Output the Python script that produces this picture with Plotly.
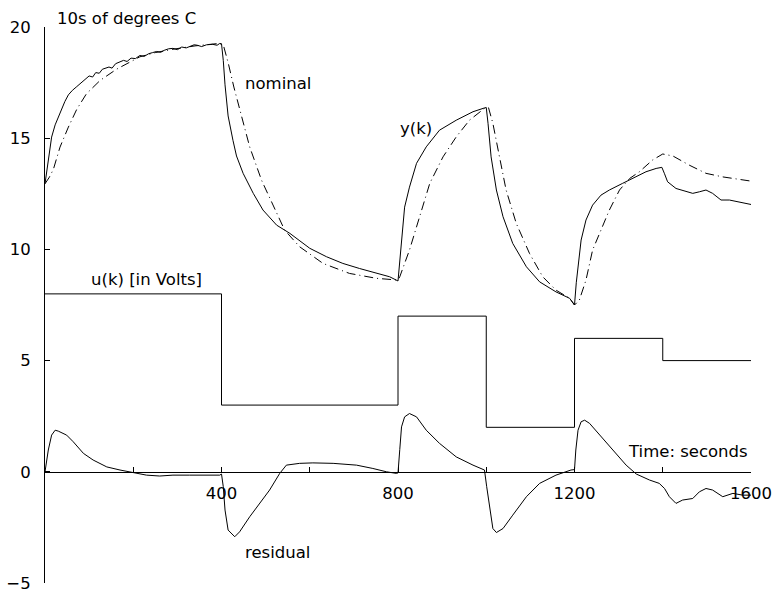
import plotly.graph_objects as go

# ---- data ----
y_t = [0, 8, 15, 23, 30, 38, 45, 53, 62, 72, 85, 100, 108, 115, 123, 130, 145, 152, 160, 178, 186,
       195, 205, 215, 225, 235, 244, 253, 262, 270, 280, 290, 300, 310, 320, 328, 338, 345, 355, 366,
       380, 390, 396, 400, 404, 408, 415, 426, 434, 449, 472, 494, 525, 555, 600, 638, 675, 713, 751,
       781, 800, 804, 808, 815, 826, 842, 864, 894, 932, 970, 996, 1000, 1004, 1011, 1023, 1038,
       1060, 1091, 1121, 1158, 1189, 1200, 1204, 1208, 1215, 1226, 1241, 1260, 1279, 1309, 1340,
       1362, 1385, 1398, 1404, 1411, 1430, 1453, 1468, 1483, 1498, 1513, 1532, 1551, 1574, 1600]
y_v = [12.95, 14.2, 15.05, 15.6, 15.95, 16.35, 16.65, 16.95, 17.15, 17.32, 17.55, 17.8, 17.75, 17.95,
       17.92, 18.1, 18.2, 18.15, 18.35, 18.5, 18.45, 18.6, 18.58, 18.72, 18.68, 18.8, 18.85, 18.9,
       18.86, 18.95, 19.02, 19.04, 18.98, 19.1, 19.06, 19.12, 19.2, 19.18, 19.12, 19.2, 19.22, 19.18,
       19.26, 19.25, 18.5, 17.4, 16.0, 14.9, 14.2, 13.42, 12.52, 11.77, 11.09, 10.72, 10.05, 9.67,
       9.37, 9.14, 8.92, 8.77, 8.58, 9.5, 10.42, 11.9, 12.8, 13.87, 14.61, 15.36, 15.81, 16.19,
       16.36, 16.38, 15.67, 14.16, 12.67, 11.47, 10.27, 9.22, 8.54, 8.09, 7.8, 7.5, 8.5, 9.22, 10.42,
       11.32, 11.99, 12.44, 12.67, 12.97, 13.26, 13.49, 13.64, 13.69, 13.4, 13.04, 12.74, 12.59,
       12.52, 12.59, 12.67, 12.52, 12.22, 12.22, 12.14, 12.02]

nom_t = [0, 10, 19, 34, 53, 72, 94, 125, 162, 215, 250, 290, 340, 389, 404, 415, 428, 443, 464, 491,
         525, 543, 577, 630, 690, 751, 800, 804, 826, 849, 872, 902, 932, 962, 996, 1005, 1015, 1030,
         1045, 1068, 1098, 1128, 1158, 1189, 1200, 1211, 1226, 1241, 1260, 1279, 1302, 1325, 1347,
         1377, 1400, 1423, 1460, 1498, 1536, 1574, 1600]
nom_v = [12.95, 13.25, 13.6, 14.6, 15.5, 16.3, 17.0, 17.6, 18.1, 18.66, 18.85, 19.0, 19.15, 19.25,
         19.2, 18.4, 17.3, 16.2, 14.6, 13.1, 11.62, 10.87, 10.12, 9.37, 8.92, 8.7, 8.62, 8.77, 9.97,
         11.47, 12.97, 14.16, 15.06, 15.81, 16.34, 16.38, 15.67, 14.16, 12.67, 11.17, 9.82, 8.77,
         8.17, 7.8, 7.5, 7.72, 8.62, 9.97, 10.87, 11.77, 12.67, 13.19, 13.49, 14.02, 14.29, 14.2,
         13.79, 13.42, 13.26, 13.15, 13.07]

res_t = [0, 7.5, 15, 23, 30, 49, 64, 87, 109, 140, 170, 200, 230, 260, 290, 328, 366, 396, 400, 404,
         408, 415, 430, 441, 464, 487, 509, 532, 547, 577, 607, 653, 706, 743, 774, 796, 800, 804,
         808, 815, 826, 842, 864, 894, 932, 970, 996, 1001, 1008, 1015, 1023, 1038, 1060, 1091, 1121,
         1158, 1192, 1200, 1203, 1208, 1215, 1223, 1234, 1257, 1287, 1317, 1340, 1370, 1392, 1404,
         1415, 1430, 1445, 1468, 1483, 1498, 1513, 1536, 1559, 1581, 1600]
res_v = [0, 0.98, 1.65, 1.87, 1.83, 1.65, 1.35, 0.83, 0.53, 0.22, 0.08, -0.04, -0.15, -0.19, -0.15,
         -0.15, -0.15, -0.15, -0.1, -0.67, -1.72, -2.62, -2.92, -2.7, -2.02, -1.42, -0.82, -0.07,
         0.3, 0.38, 0.4, 0.38, 0.3, 0.15, 0.0, -0.07, -0.05, 1.0, 2.02, 2.47, 2.62, 2.47, 1.87, 1.28,
         0.67, 0.3, 0.08, -0.67, -1.72, -2.55, -2.73, -2.55, -1.95, -1.12, -0.52, -0.15, 0.08, 0.1,
         0.98, 1.87, 2.25, 2.32, 2.18, 1.65, 0.98, 0.3, -0.1, -0.37, -0.52, -0.75, -1.12, -1.42,
         -1.27, -1.2, -0.9, -0.75, -0.82, -1.12, -0.97, -1.05, -1.05]

u_t = [0, 400, 800, 1000, 1200, 1400, 1600]
u_v = [8, 3, 7, 2, 6, 5, 5]

x_ticks = [200, 400, 600, 800, 1000, 1200, 1400, 1600]
x_ticklabels = ["", "400", "", "800", "", "1200", "", "1600"]
y_ticks = [-5, 0, 5, 10, 15, 20]

FONT = "DejaVu Sans"
FS = 16.5

fig = go.Figure()
fig.add_trace(go.Scatter(x=u_t, y=u_v, mode="lines", line=dict(color="black", width=1, shape="hv")))
fig.add_trace(go.Scatter(x=nom_t, y=nom_v, mode="lines",
                         line=dict(color="black", width=1, dash="9px,4px,1px,4px")))
fig.add_trace(go.Scatter(x=y_t, y=y_v, mode="lines", line=dict(color="black", width=1)))
fig.add_trace(go.Scatter(x=res_t, y=res_v, mode="lines", line=dict(color="black", width=1)))

# axis title above the plot area (paper y coordinate since it lies outside the y range)
fig.add_annotation(x=22, y=1.016, xref="x", yref="paper", text="10s of degrees C",
                   showarrow=False, xanchor="left", yanchor="middle",
                   font=dict(family=FONT, size=FS, color="black"))

labels = [
    ("nominal", 449, 17.48, "left"),
    ("y(k)", 799, 15.45, "left"),
    ("u(k) [in Volts]", 100, 8.66, "left"),
    ("Time: seconds", 1598, 0.93, "right"),
    ("residual", 448, -3.61, "left"),
]
for txt, ax, ay, anc in labels:
    fig.add_annotation(x=ax, y=ay, xref="x", yref="y", text=txt, showarrow=False,
                       xanchor=anc, yanchor="middle", font=dict(family=FONT, size=FS, color="black"))

fig.update_layout(
    width=773, height=596,
    margin=dict(l=45, r=22, t=27, b=13, autoexpand=False),
    paper_bgcolor="white", plot_bgcolor="white",
    showlegend=False,
    font=dict(family=FONT, size=FS, color="black"),
    xaxis=dict(range=[0, 1600], anchor="free", position=0.2, showgrid=False, zeroline=False,
               showline=True, linecolor="black", linewidth=1, automargin=False,
               tickmode="array", tickvals=x_ticks, ticktext=x_ticklabels,
               ticks="inside", ticklen=5, tickcolor="black", tickwidth=1,
               ticklabelstandoff=6),
    yaxis=dict(range=[-5, 20], showgrid=False, zeroline=False, automargin=False,
               showline=True, linecolor="black", linewidth=1,
               tickmode="array", tickvals=y_ticks,
               ticks="inside", ticklen=5, tickcolor="black", tickwidth=1,
               ticklabelstandoff=10),
)

fig.write_html("out.html")
